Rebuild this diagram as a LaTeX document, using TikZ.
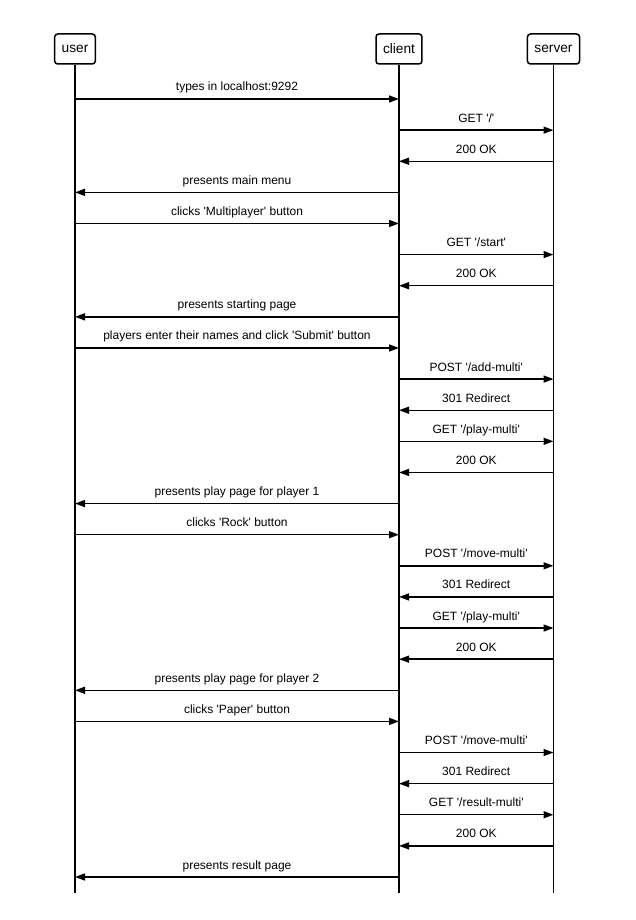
\documentclass[tikz,border=0pt]{standalone}
\usepackage{fontspec}
\setmainfont{Liberation Sans}[Ligatures=TeXOff]
\usetikzlibrary{arrows.meta}
\newcommand\seqmsg[4]{%
  \draw[msgline] (#2.south |- 0,{99+(#1-1)*31.12}) -- node[msglabel]{#4} (#3.south |- 0,{99+(#1-1)*31.12});%
}
\begin{document}
\begin{tikzpicture}[x=1pt,y=-1pt,
  actor/.style={draw,line width=1.5pt,rounded corners=3pt,minimum height=30pt,inner xsep=7pt,inner ysep=0pt,font=\fontsize{13.7}{15}\selectfont,fill=white},
  lifeline/.style={line width=1.7pt},
  msgline/.style={line width=1.4pt,-{Triangle[length=10pt,width=7pt]}},
  msglabel/.style={midway,anchor=base,yshift=8pt,font=\fontsize{12}{14}\selectfont,inner sep=0pt}]
\useasboundingbox (0,0) rectangle (636,920);
\fill[white] (0,0) rectangle (636,920);
\node[actor] (u) at (75,49) {user};
\node[actor] (c) at (399,49) {client};
\node[actor] (s) at (553.5,49) {server};
\draw[lifeline] (u.south) -- (u.south |- 0,893);
\draw[lifeline] (c.south) -- (c.south |- 0,893);
\draw[lifeline] (s.south) -- (s.south |- 0,893);
\seqmsg{1}{u}{c}{types in localhost:9292}
\seqmsg{2}{c}{s}{GET '/'}
\seqmsg{3}{s}{c}{200 OK}
\seqmsg{4}{c}{u}{presents main menu}
\seqmsg{5}{u}{c}{clicks 'Multiplayer' button}
\seqmsg{6}{c}{s}{GET '/start'}
\seqmsg{7}{s}{c}{200 OK}
\seqmsg{8}{c}{u}{presents starting page}
\seqmsg{9}{u}{c}{players enter their names and click 'Submit' button}
\seqmsg{10}{c}{s}{POST '/add-multi'}
\seqmsg{11}{s}{c}{301 Redirect}
\seqmsg{12}{c}{s}{GET '/play-multi'}
\seqmsg{13}{s}{c}{200 OK}
\seqmsg{14}{c}{u}{presents play page for player 1}
\seqmsg{15}{u}{c}{clicks 'Rock' button}
\seqmsg{16}{c}{s}{POST '/move-multi'}
\seqmsg{17}{s}{c}{301 Redirect}
\seqmsg{18}{c}{s}{GET '/play-multi'}
\seqmsg{19}{s}{c}{200 OK}
\seqmsg{20}{c}{u}{presents play page for player 2}
\seqmsg{21}{u}{c}{clicks 'Paper' button}
\seqmsg{22}{c}{s}{POST '/move-multi'}
\seqmsg{23}{s}{c}{301 Redirect}
\seqmsg{24}{c}{s}{GET '/result-multi'}
\seqmsg{25}{s}{c}{200 OK}
\seqmsg{26}{c}{u}{presents result page}
\end{tikzpicture}
\end{document}
